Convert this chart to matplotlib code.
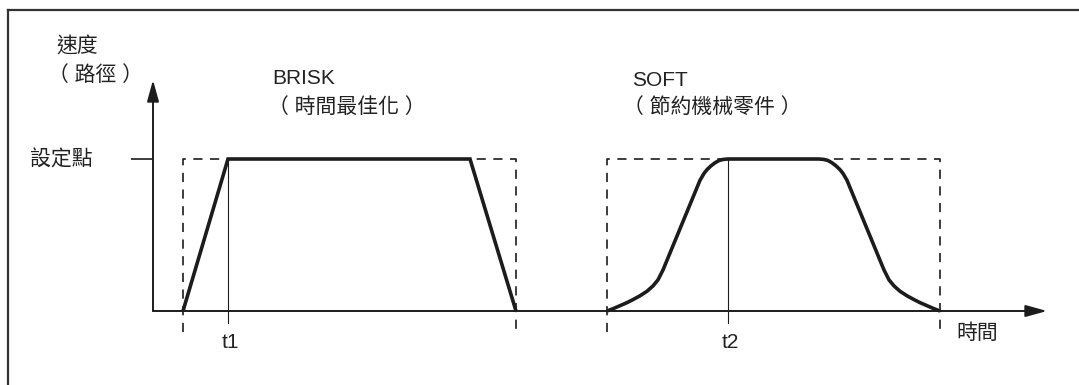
import matplotlib
matplotlib.use("Agg")
import matplotlib.pyplot as plt
from matplotlib.lines import Line2D

plt.rcParams['font.family'] = ['Liberation Sans', 'Noto Sans CJK TC', 'DejaVu Sans']

# Velocity profiles: time in arbitrary units, velocity as fraction of set point
brisk_t = [3.0, 7.5, 31.7, 36.3]
brisk_v = [0.0, 1.0, 1.0, 0.0]

soft_t = [45.4, 46.0, 46.7, 47.4, 48.0, 48.7, 49.4, 50.0, 50.5, 51.0,
          54.7, 55.1, 55.4, 55.8, 56.2, 56.6, 57.0, 57.5,
          66.6, 67.1, 67.5, 67.9, 68.3, 68.7, 69.0, 69.4,
          73.1, 73.6, 74.1, 74.7, 75.4, 76.1, 76.7, 77.4, 78.1, 78.7]
soft_v = [0.0, 0.015, 0.035, 0.055, 0.075, 0.10, 0.13, 0.165, 0.205, 0.27,
          0.86, 0.905, 0.93, 0.955, 0.975, 0.99, 0.997, 1.0,
          1.0, 0.997, 0.99, 0.975, 0.955, 0.93, 0.905, 0.86,
          0.27, 0.205, 0.165, 0.13, 0.10, 0.075, 0.055, 0.035, 0.015, 0.0]

setpoint = 1.0
t1 = 7.5
t2 = 57.5
brisk_box = (3.0, 36.3)
soft_box = (45.4, 78.7)

W, H = 1079, 385
fig = plt.figure(figsize=(W / 100, H / 100), dpi=100)
ax = fig.add_axes([0, 0, 1, 1])
ax.set_axis_off()

# pixel layout helpers: origin of the plot at (153, 311), 10 px per time unit, 152 px per setpoint
X0, Y0, SX, SY = 153.0, 311.0, 10.0, 152.0
def tx(px):
    return (px - X0) / SX
def vy(py):
    return (Y0 - py) / SY

ax.set_xlim(tx(0), tx(W))
ax.set_ylim(vy(H), vy(0))

ink = '#1c1c1c'

# frame lines along top and left
fig.add_artist(Line2D([8 / W, 1.0], [1 - 10 / H, 1 - 10 / H], color='#333333', lw=1.6,
                      transform=fig.transFigure))
fig.add_artist(Line2D([8 / W, 8 / W], [0.0, 1 - 10 / H], color='#333333', lw=1.6,
                      transform=fig.transFigure))

# axes with arrow heads
arrow = dict(arrowstyle='-|>,head_length=1.3,head_width=0.36', mutation_scale=10,
             lw=1.4, color=ink, shrinkA=0, shrinkB=0)
ax.annotate('', xy=(0, vy(80)), xytext=(0, 0), arrowprops=arrow)
ax.annotate('', xy=(tx(1047), 0), xytext=(0, 0), arrowprops=arrow)

# set point tick
ax.plot([tx(131), 0], [setpoint, setpoint], color=ink, lw=1.2, solid_capstyle='butt')

# dashed ideal boxes
low = vy(332)
for a, b in (brisk_box, soft_box):
    ax.plot([a, a, b, b], [low, setpoint, setpoint, low], color=ink, lw=1.2,
            dashes=(5.5, 4.5), solid_joinstyle='miter')

# thin markers at t1 and t2
for t in (t1, t2):
    ax.plot([t, t], [setpoint, vy(323)], color=ink, lw=0.8)

# velocity curves
ax.plot(brisk_t, brisk_v, color=ink, lw=2.6, solid_joinstyle='miter', solid_capstyle='butt')
ax.plot(soft_t, soft_v, color=ink, lw=2.6, solid_joinstyle='round', solid_capstyle='butt')

fs = 15
tc = '#222222'
ax.text(tx(56), vy(47), '速度', fontsize=fs, color=tc, va='center', ha='left')
ax.text(tx(48), vy(75), '（ 路徑 ）', fontsize=fs, color=tc, va='center', ha='left')
ax.text(tx(30), vy(159), '設定點', fontsize=fs, color=tc, va='center', ha='left')
ax.text(tx(272), vy(79), 'BRISK', fontsize=fs, color=tc, va='center', ha='left')
ax.text(tx(268), vy(107), '（ 時間最佳化 ）', fontsize=fs, color=tc, va='center', ha='left')
ax.text(tx(632), vy(80), 'SOFT', fontsize=fs, color=tc, va='center', ha='left')
ax.text(tx(623), vy(107), '（ 節約機械零件 ）', fontsize=fs, color=tc, va='center', ha='left')
ax.text(t1 + 0.2, vy(342), 't1', fontsize=fs, color=tc, va='center', ha='center')
ax.text(t2 + 0.2, vy(342), 't2', fontsize=fs, color=tc, va='center', ha='center')
ax.text(tx(956), vy(333), '時間', fontsize=fs, color=tc, va='center', ha='left')

fig.savefig('out.png', dpi=100)
